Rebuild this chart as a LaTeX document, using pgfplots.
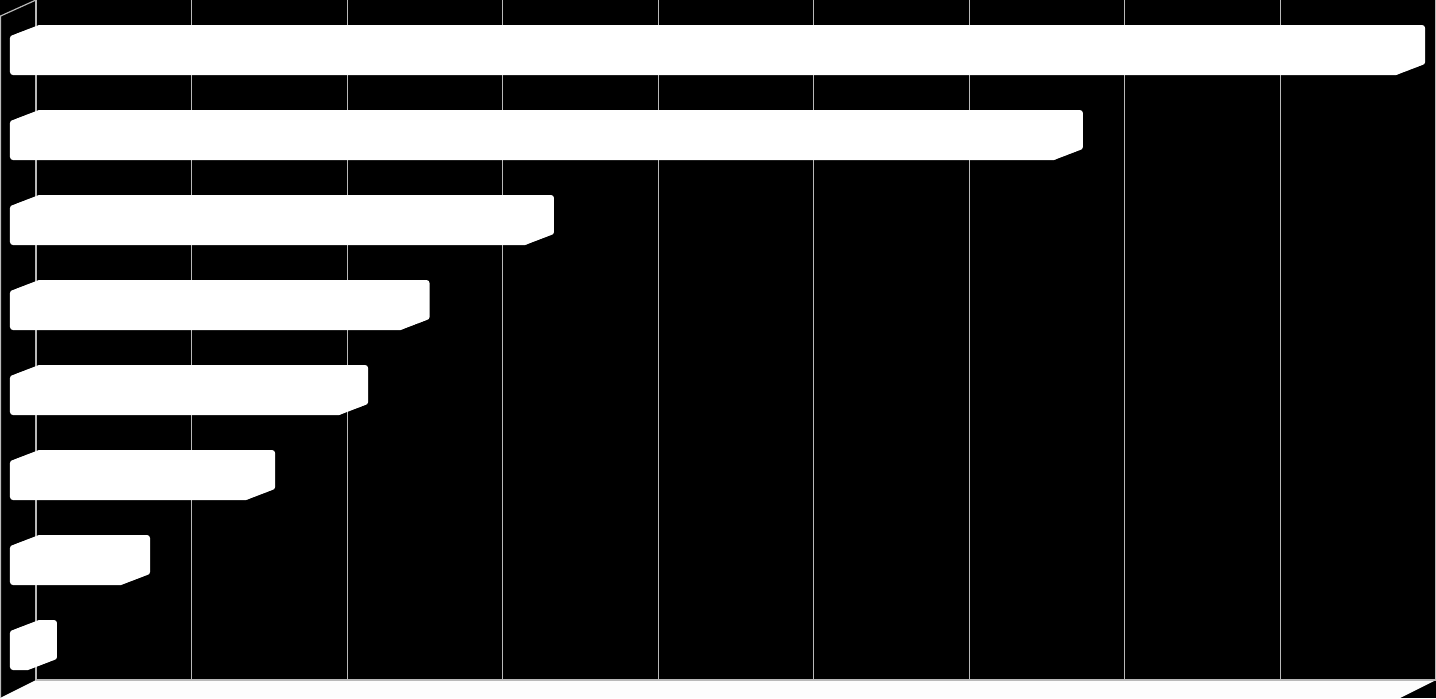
\documentclass[border=0pt]{standalone}
\usepackage{pgfplots}
\pgfplotsset{compat=1.18}
\usepackage{pgfplotstable}

\definecolor{gridgray}{RGB}{185,185,185}
\definecolor{floorwhite}{RGB}{253,253,253}

% bar lengths, one gridline = 1 unit
\pgfplotstableread{
cat value
0 8.93
1 6.73
2 3.33
3 2.53
4 2.135
5 1.537
6 0.733
7 0.135
}\bardata

\begin{document}
\begin{tikzpicture}
\useasboundingbox (0,0) rectangle (718pt,349pt);
\fill[black] (0,0) rectangle (718pt,349pt);
% floor
\fill[floorwhite] (18pt,9pt) -- (718pt,9pt) -- (700pt,0pt) -- (0pt,0pt) -- cycle;
\begin{axis}[
    at={(18pt,9pt)}, anchor=south west,
    width=700pt, height=340pt, scale only axis,
    xmin=0, xmax=9, ymin=-0.5, ymax=7.5, y dir=reverse,
    clip=false,
    xtick={0,...,9}, ytick=\empty, xticklabels={},
    xmajorgrids, grid style={gridgray, line width=0.6pt},
    axis line style={draw=none}, major tick length=0pt,
    xbar, bar width=20pt,
]
% 3D look: the same bars drawn again, stepped towards the front
\pgfplotsinvokeforeach{0,...,13}{
    \addplot[fill=white, draw=none, rounded corners=1.5pt, bar shift=0pt,
        xshift={-#1pt}, yshift={-1.25pt-#1*5/13*1pt}]
        table[x=value, y=cat] {\bardata};
}
\end{axis}
\draw[gridgray, line width=0.6pt] (18pt,9pt) -- (718pt,9pt);
\draw[gridgray, line width=0.6pt] (0.3pt,0pt) -- (0.3pt,341pt) -- (18pt,349pt);
\end{tikzpicture}
\end{document}
